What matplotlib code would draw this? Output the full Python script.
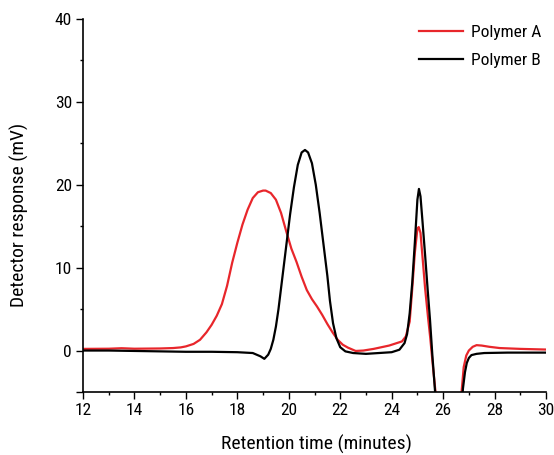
import matplotlib
matplotlib.use("Agg")
import matplotlib.pyplot as plt
from matplotlib import font_manager
from matplotlib.ticker import MultipleLocator, FixedLocator

names = {f.name for f in font_manager.fontManager.ttflist}
prefs = ["Roboto Condensed", "Nimbus Sans Narrow", "Liberation Sans Narrow", "Archivo Narrow",
         "PT Sans Narrow", "Barlow Semi Condensed", "Asap Condensed", "Liberation Sans"]
fam = next(p for p in prefs if p in names or p == "Liberation Sans")
plt.rcParams['font.family'] = [fam, 'DejaVu Sans']

# Polymer A (red)
xa = [12.0, 13.0, 13.5, 14.0, 15.0, 15.5, 15.8, 16.0, 16.3, 16.55, 16.8, 17.0, 17.2, 17.4,
      17.6, 17.8, 18.0, 18.2, 18.4, 18.6, 18.8, 19.0, 19.1, 19.3, 19.5, 19.7, 19.9, 20.1,
      20.3, 20.5, 20.7, 20.9, 21.1, 21.3, 21.5, 21.7, 21.9, 22.1, 22.3, 22.6, 22.9, 23.3,
      23.6, 23.9, 24.2, 24.4, 24.55, 24.7, 24.8, 24.9, 25.0, 25.05, 25.12, 25.22, 25.3,
      25.41, 25.5, 25.6, 25.72, 26.7, 26.72, 26.8, 26.9, 27.0, 27.15, 27.3, 27.5, 27.8,
      28.2, 29.0, 30.0]
ya = [0.20, 0.22, 0.28, 0.22, 0.25, 0.30, 0.38, 0.5, 0.8, 1.3, 2.2, 3.1, 4.2, 5.6,
      7.8, 10.6, 13.0, 15.2, 17.0, 18.4, 19.1, 19.3, 19.3, 19.0, 18.2, 16.6, 14.4, 12.3,
      10.7, 8.9, 7.3, 6.2, 5.3, 4.3, 3.2, 2.2, 1.3, 0.7, 0.35, -0.05, 0.0, 0.2,
      0.4, 0.6, 0.9, 1.1, 1.7, 3.5, 7.5, 11.8, 14.7, 14.9, 14.2, 10.5, 7.5,
      4.1, 1.5, -1.8, -5.5, -5.5, -4.9, -2.0, -0.6, 0.0, 0.45, 0.65, 0.6, 0.45,
      0.3, 0.2, 0.12]

# Polymer B (black)
xb = [12.0, 13.0, 14.0, 15.0, 16.0, 17.0, 18.0, 18.6, 18.9, 19.05, 19.2, 19.3, 19.4, 19.5,
      19.6, 19.75, 19.9, 20.05, 20.2, 20.35, 20.5, 20.63, 20.75, 20.9, 21.05, 21.2, 21.35,
      21.5, 21.6, 21.72, 21.85, 22.0, 22.2, 22.5, 23.0, 23.5, 24.0, 24.3, 24.5, 24.6, 24.7,
      24.8, 24.9, 25.0, 25.06, 25.12, 25.2, 25.3, 25.4, 25.49, 25.58, 25.7, 26.75, 26.77,
      26.85, 26.92, 27.0, 27.1, 27.3, 27.6, 28.5, 30.0]
yb = [0.0, 0.0, -0.05, -0.1, -0.15, -0.15, -0.2, -0.3, -0.7, -1.0, -0.5, 0.2, 1.3, 2.9,
      5.0, 8.8, 12.6, 16.4, 19.7, 22.4, 23.9, 24.2, 23.9, 22.6, 20.0, 16.6, 12.8,
      9.0, 6.0, 3.3, 1.5, 0.4, -0.1, -0.3, -0.4, -0.3, -0.2, 0.1, 0.9, 2.0, 4.5,
      8.2, 13.0, 18.2, 19.5, 18.6, 15.5, 11.5, 7.3, 3.7, -0.5, -5.5, -5.5, -4.6,
      -2.6, -1.5, -0.9, -0.55, -0.4, -0.3, -0.25, -0.25]

labels = ["Polymer A", "Polymer B"]
colors = ["#e8262b", "#000000"]

fig = plt.figure(figsize=(5.54, 4.55), dpi=100)
ax = fig.add_axes([0.1498, 0.1385, 0.8358, 0.8197])
ax.plot(xa, ya, color=colors[0], lw=1.6, label=labels[0], solid_joinstyle="round")
ax.plot(xb, yb, color=colors[1], lw=1.6, label=labels[1], solid_joinstyle="round")

ax.set_xlim(12, 30)
ax.set_ylim(-5, 40)
ax.xaxis.set_major_locator(MultipleLocator(2))
ax.xaxis.set_minor_locator(MultipleLocator(1))
ax.yaxis.set_major_locator(FixedLocator([-5, 0, 10, 20, 30, 40]))
ax.yaxis.set_minor_locator(FixedLocator([5, 15, 25, 35]))
ax.set_yticklabels(["", "0", "10", "20", "30", "40"])

for s in ["top", "right"]:
    ax.spines[s].set_visible(False)
for s in ["left", "bottom"]:
    ax.spines[s].set_linewidth(1.2)
ax.tick_params(which="major", direction="out", length=5, width=1.0, labelsize=12.5, pad=3)
ax.tick_params(which="minor", direction="out", length=2.5, width=1.0)

ax.set_xlabel("Retention time (minutes)", fontsize=14)
ax.set_ylabel("Detector response (mV)", fontsize=14)
ax.xaxis.set_label_coords(0.5035, -0.115)
ax.yaxis.set_label_coords(-0.117, 0.4745)

leg = ax.legend(loc="upper right", bbox_to_anchor=(1.023, 1.025), frameon=False,
                fontsize=12.5, handlelength=2.5, handletextpad=0.45, labelspacing=0.72)

fig.savefig("out.png", dpi=100)
